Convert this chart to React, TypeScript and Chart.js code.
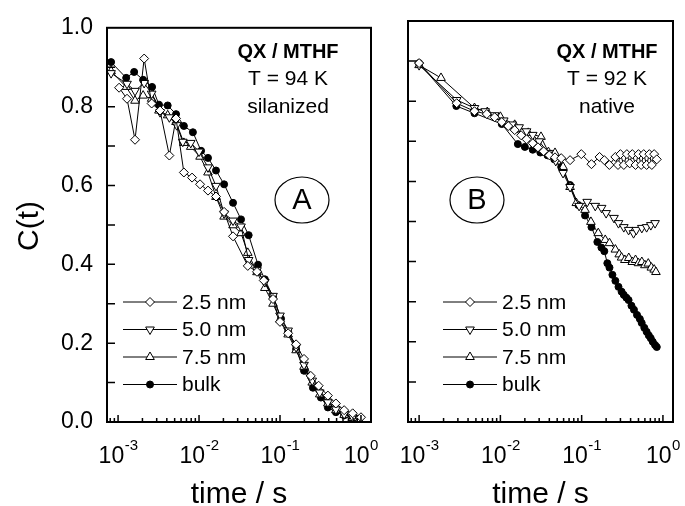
import React, { useEffect, useRef } from 'react';
import { Chart, registerables } from 'chart.js';
Chart.register(...registerables);

const FONT = '"Liberation Sans", Arial, Helvetica, sans-serif';

// ---------- Panel A (silanized, 94 K) ----------
const tA_25 = [1.03e-3, 1.29e-3, 1.62e-3, 2.1e-3, 2.6e-3, 3.3e-3, 4.3e-3, 5.2e-3, 6.5e-3, 8.2e-3, 0.0103, 0.0129, 0.0162, 0.0204, 0.0263, 0.04, 0.052, 0.063, 0.082, 0.1, 0.126, 0.158, 0.198, 0.24, 0.3, 0.39, 0.49, 0.62, 0.79, 1.0];
const cA_25 = [0.848, 0.82, 0.716, 0.922, 0.808, 0.79, 0.676, 0.77, 0.633, 0.62, 0.603, 0.587, 0.572, 0.533, 0.471, 0.396, 0.381, 0.359, 0.312, 0.254, 0.225, 0.197, 0.16, 0.117, 0.092, 0.067, 0.047, 0.03, 0.022, 0.012];

const tA_50 = [8.2e-4, 1.29e-3, 1.62e-3, 2.1e-3, 2.6e-3, 3.3e-3, 4.3e-3, 5.3e-3, 6.3e-3, 7.9e-3, 0.01, 0.0129, 0.0162, 0.0204, 0.0263, 0.033, 0.041, 0.052, 0.065, 0.082, 0.1, 0.126, 0.158, 0.198, 0.25, 0.31, 0.39, 0.49, 0.62, 0.79, 0.95];
const cA_50 = [0.885, 0.858, 0.84, 0.86, 0.833, 0.786, 0.773, 0.753, 0.711, 0.708, 0.686, 0.646, 0.599, 0.529, 0.511, 0.496, 0.411, 0.385, 0.355, 0.32, 0.27, 0.232, 0.19, 0.145, 0.105, 0.075, 0.05, 0.032, 0.02, 0.012, 0.008];

const tA_75 = [8.2e-4, 1.26e-3, 1.62e-3, 2.04e-3, 2.6e-3, 3.2e-3, 4.1e-3, 5.2e-3, 6.5e-3, 7.9e-3, 0.0103, 0.0129, 0.0162, 0.0204, 0.0263, 0.033, 0.04, 0.052, 0.065, 0.082, 0.1, 0.126, 0.158, 0.198, 0.25, 0.31, 0.39, 0.49, 0.62, 0.79, 0.95];
const cA_75 = [0.89, 0.85, 0.815, 0.828, 0.82, 0.79, 0.778, 0.761, 0.708, 0.698, 0.673, 0.633, 0.571, 0.521, 0.499, 0.479, 0.429, 0.38, 0.34, 0.3, 0.26, 0.222, 0.182, 0.14, 0.1, 0.07, 0.047, 0.03, 0.018, 0.01, 0.006];

const tA_bulk = [8.2e-4, 1.26e-3, 1.58e-3, 2.04e-3, 2.63e-3, 3.2e-3, 4.1e-3, 5.2e-3, 6.5e-3, 8.4e-3, 0.0106, 0.0129, 0.0162, 0.0204, 0.0263, 0.033, 0.041, 0.0535, 0.065, 0.082, 0.103, 0.126, 0.158, 0.198, 0.255, 0.32, 0.39, 0.49, 0.62, 0.79];
const cA_bulk = [0.913, 0.873, 0.888, 0.868, 0.85, 0.805, 0.803, 0.781, 0.751, 0.735, 0.688, 0.67, 0.638, 0.603, 0.556, 0.514, 0.474, 0.399, 0.362, 0.317, 0.262, 0.229, 0.185, 0.13, 0.087, 0.062, 0.037, 0.025, 0.017, 0.012];

// ---------- Panel B (native, 92 K) ----------
const tB_25 = [0.001, 0.0029, 0.0048, 0.0068, 0.0085, 0.0104, 0.0125, 0.015, 0.018, 0.021, 0.025, 0.029, 0.034, 0.04, 0.047, 0.056, 0.072, 0.099, 0.132, 0.166, 0.19, 0.219, 0.26, 0.28, 0.3, 0.33, 0.36, 0.39, 0.42, 0.46, 0.5, 0.54, 0.58, 0.63, 0.68, 0.73, 0.78, 0.84];
const cB_25 = [0.895, 0.795, 0.775, 0.768, 0.76, 0.748, 0.738, 0.728, 0.715, 0.705, 0.695, 0.685, 0.675, 0.665, 0.66, 0.658, 0.653, 0.668, 0.643, 0.661, 0.653, 0.641, 0.661, 0.641, 0.668, 0.641, 0.668, 0.645, 0.668, 0.641, 0.668, 0.641, 0.668, 0.641, 0.668, 0.641, 0.668, 0.655];

const tB_50 = [0.001, 0.0029, 0.0048, 0.0065, 0.0085, 0.011, 0.014, 0.017, 0.021, 0.025, 0.03, 0.039, 0.048, 0.059, 0.072, 0.093, 0.117, 0.147, 0.176, 0.2, 0.25, 0.284, 0.33, 0.378, 0.435, 0.47, 0.55, 0.63, 0.71, 0.8];
const cB_50 = [0.89, 0.803, 0.783, 0.775, 0.765, 0.752, 0.742, 0.735, 0.725, 0.716, 0.7, 0.671, 0.651, 0.621, 0.586, 0.539, 0.549, 0.539, 0.534, 0.521, 0.509, 0.496, 0.486, 0.479, 0.471, 0.479, 0.484, 0.486, 0.491, 0.496];

const tB_75 = [0.001, 0.00186, 0.0048, 0.0069, 0.01, 0.015, 0.022, 0.0316, 0.039, 0.047, 0.059, 0.072, 0.086, 0.11, 0.13, 0.16, 0.195, 0.22, 0.26, 0.29, 0.31, 0.34, 0.38, 0.42, 0.46, 0.5, 0.55, 0.6, 0.66, 0.72, 0.78, 0.82];
const cB_75 = [0.89, 0.858, 0.783, 0.773, 0.761, 0.741, 0.721, 0.711, 0.673, 0.671, 0.636, 0.586, 0.546, 0.529, 0.499, 0.471, 0.454, 0.446, 0.43, 0.418, 0.41, 0.404, 0.409, 0.399, 0.404, 0.396, 0.399, 0.391, 0.395, 0.385, 0.38, 0.374];

const tB_bulk = [0.001, 0.00287, 0.0048, 0.0104, 0.0164, 0.02, 0.025, 0.031, 0.038, 0.046, 0.056, 0.072, 0.091, 0.11, 0.132, 0.156, 0.175, 0.19, 0.207, 0.22, 0.239, 0.26, 0.284, 0.31, 0.33, 0.355, 0.378, 0.41, 0.44, 0.48, 0.52, 0.548, 0.59, 0.63, 0.67, 0.708, 0.75, 0.8, 0.84];
const cB_bulk = [0.895, 0.788, 0.77, 0.743, 0.693, 0.686, 0.679, 0.672, 0.665, 0.655, 0.636, 0.591, 0.541, 0.515, 0.486, 0.449, 0.435, 0.426, 0.396, 0.385, 0.367, 0.352, 0.337, 0.325, 0.317, 0.31, 0.304, 0.29, 0.28, 0.267, 0.257, 0.247, 0.235, 0.225, 0.216, 0.209, 0.2, 0.192, 0.187];

// ---------- labels / ticks ----------
const seriesLabels = ['2.5 nm', '5.0 nm', '7.5 nm', 'bulk'];
const xDecades = [-3, -2, -1, 0];
const xTickBase = '10';
const xTickSup = ['-3', '-2', '-1', '0'];
const yMajorTicks = [0, 0.2, 0.4, 0.6, 0.8, 1.0];
const yMinorTicks = [0.1, 0.3, 0.5, 0.7, 0.9];
const xTitle = 'time / s';
const yTitle = 'C(t)';
const annoA = [{ text: 'QX / MTHF', bold: true }, { text: 'T = 94 K', bold: false }, { text: 'silanized', bold: false }];
const annoB = [{ text: 'QX / MTHF', bold: true }, { text: 'T = 92 K', bold: false }, { text: 'native', bold: false }];
const X_MIN = 7.3e-4;
const X_MAX = 1.33;

const markerStyles = [
  { pointStyle: 'rectRot', radius: 4.5, fill: '#ffffff', rotation: 0 },
  { pointStyle: 'triangle', radius: 5, fill: '#ffffff', rotation: 180 },
  { pointStyle: 'triangle', radius: 5, fill: '#ffffff', rotation: 0 },
  { pointStyle: 'circle', radius: 3.5, fill: '#000000', rotation: 0 },
];

function drawMarker(ctx: CanvasRenderingContext2D, st: any, x: number, y: number) {
  const r = st.radius;
  ctx.beginPath();
  if (st.pointStyle === 'circle') {
    ctx.arc(x, y, r, 0, Math.PI * 2);
  } else if (st.pointStyle === 'rectRot') {
    ctx.moveTo(x, y - r); ctx.lineTo(x + r, y); ctx.lineTo(x, y + r); ctx.lineTo(x - r, y); ctx.closePath();
  } else {
    let rad = (st.rotation * Math.PI) / 180;
    for (let k = 0; k < 3; k++) {
      const px = x + Math.sin(rad) * r;
      const py = y - Math.cos(rad) * r;
      if (k === 0) ctx.moveTo(px, py); else ctx.lineTo(px, py);
      rad += (2 * Math.PI) / 3;
    }
    ctx.closePath();
  }
  ctx.fillStyle = st.fill;
  ctx.fill();
  ctx.lineWidth = 1;
  ctx.strokeStyle = '#000';
  ctx.stroke();
}

const decorPlugin = {
  id: 'decor',
  afterDatasetsDraw(chart: any, _args: any, opts: any) {
    const ctx: CanvasRenderingContext2D = chart.ctx;
    const { left, right, top, bottom } = chart.chartArea;
    const xs = chart.scales.x;
    const ys = chart.scales.y;
    ctx.save();
    ctx.strokeStyle = '#000';
    ctx.fillStyle = '#000';

    // inward ticks
    ctx.lineWidth = 1.5;
    ctx.beginPath();
    [...yMajorTicks, ...yMinorTicks].forEach((v) => {
      if (v <= 0 || v >= 1) return;
      const y = ys.getPixelForValue(v);
      ctx.moveTo(left, y);
      ctx.lineTo(left + 8, y);
    });
    for (let d = -4; d <= 0; d++) {
      for (let m = 1; m <= 9; m++) {
        const v = m * Math.pow(10, d);
        if (v < X_MIN || v > X_MAX) continue;
        const x = xs.getPixelForValue(v);
        const len = m === 1 ? 7 : 4;
        ctx.moveTo(x, bottom);
        ctx.lineTo(x, bottom - len);
      }
    }
    ctx.stroke();

    // frame
    ctx.lineWidth = 2;
    ctx.strokeRect(left, top, right - left, bottom - top);

    // x tick labels with superscripts
    ctx.textBaseline = 'alphabetic';
    ctx.textAlign = 'left';
    xDecades.forEach((d, i) => {
      const x = xs.getPixelForValue(Math.pow(10, d));
      ctx.font = `23px ${FONT}`;
      const wb = ctx.measureText(xTickBase).width;
      ctx.font = `15px ${FONT}`;
      const ws = ctx.measureText(xTickSup[i]).width;
      const start = x - (wb + ws) / 2;
      ctx.font = `23px ${FONT}`;
      ctx.fillText(xTickBase, start, 463);
      ctx.font = `15px ${FONT}`;
      ctx.fillText(xTickSup[i], start + wb + 0.5, 450);
    });

    // x title
    ctx.font = `30px ${FONT}`;
    ctx.textAlign = 'center';
    ctx.fillText(xTitle, (left + right) / 2, 503);

    // y title
    if (opts.showYTitle) {
      ctx.save();
      ctx.translate(30, 226);
      ctx.rotate(-Math.PI / 2);
      ctx.font = `30px ${FONT}`;
      ctx.textAlign = 'center';
      ctx.textBaseline = 'middle';
      ctx.fillText(yTitle, 0, 0);
      ctx.restore();
    }

    // annotation text block
    const cx = left + opts.textDx;
    const baselines = [58, 85, 113];
    ctx.textAlign = 'center';
    ctx.textBaseline = 'alphabetic';
    opts.lines.forEach((ln: any, i: number) => {
      ctx.font = ln.bold ? `bold 20px ${FONT}` : `21px ${FONT}`;
      ctx.fillText(ln.text, cx, baselines[i]);
    });

    // panel letter in ellipse
    const ex = left + opts.circleDx;
    ctx.lineWidth = 1.2;
    ctx.beginPath();
    ctx.ellipse(ex, 200, 27, 23, 0, 0, Math.PI * 2);
    ctx.stroke();
    ctx.font = `29px ${FONT}`;
    ctx.textBaseline = 'middle';
    ctx.fillText(opts.letter, ex, 201);

    // legend
    const lx = left + opts.legendDx;
    const rows = [302, 329.5, 357, 384.5];
    seriesLabels.forEach((lab, i) => {
      const y = rows[i];
      ctx.lineWidth = 1;
      ctx.strokeStyle = '#000';
      ctx.beginPath();
      ctx.moveTo(lx, y);
      ctx.lineTo(lx + 54, y);
      ctx.stroke();
      drawMarker(ctx, markerStyles[i], lx + 27, y);
      ctx.fillStyle = '#000';
      ctx.font = `21px ${FONT}`;
      ctx.textAlign = 'left';
      ctx.textBaseline = 'middle';
      ctx.fillText(lab, lx + 59, y + 1);
    });
    ctx.restore();
  },
};

function makeDatasets(ts: number[][], cs: number[][]) {
  return ts.map((t, i) => ({
    label: seriesLabels[i],
    data: t.map((x, k) => ({ x, y: cs[i][k] })),
    showLine: true,
    borderColor: '#000',
    borderWidth: 1,
    pointStyle: markerStyles[i].pointStyle,
    pointRadius: markerStyles[i].radius,
    pointRotation: markerStyles[i].rotation,
    pointBackgroundColor: markerStyles[i].fill,
    pointBorderColor: '#000',
    pointBorderWidth: 1,
  }));
}

function makeConfig(datasets: any[], yLabels: boolean, yWidth: number, padRight: number, decor: any) {
  return {
    type: 'scatter',
    data: { datasets },
    plugins: [decorPlugin],
    options: {
      responsive: false,
      animation: false,
      devicePixelRatio: 1,
      layout: { padding: { left: 0, right: padRight, top: 21, bottom: 0 } },
      plugins: { legend: { display: false }, tooltip: { enabled: false }, decor },
      scales: {
        x: {
          type: 'logarithmic',
          min: X_MIN,
          max: X_MAX,
          grid: { display: false, drawTicks: false },
          border: { display: false },
          ticks: { display: false },
          afterFit: (s: any) => { s.height = 84; },
        },
        y: {
          type: 'linear',
          min: 0,
          max: 1,
          grid: { display: false, drawTicks: false },
          border: { display: false },
          ticks: {
            display: yLabels,
            stepSize: 0.2,
            padding: 14,
            color: '#000',
            font: { family: FONT, size: 23 },
            callback: (v: number) => Number(v).toFixed(1),
          },
          afterFit: (s: any) => { s.width = yWidth; },
        },
      },
    },
  };
}

function Panel({ cfg, w, left }: { cfg: any; w: number; left: number }) {
  const ref = useRef<HTMLCanvasElement>(null);
  useEffect(() => {
    if (!ref.current) return;
    const chart = new Chart(ref.current, cfg);
    return () => chart.destroy();
  }, []);
  return (
    <canvas
      ref={ref}
      width={w}
      height={506}
      style={{ position: 'absolute', left, top: 0, width: w, height: 506 }}
    />
  );
}

export default function App() {
  const cfgA = makeConfig(
    makeDatasets([tA_25, tA_50, tA_75, tA_bulk], [cA_25, cA_50, cA_75, cA_bulk]),
    true, 107, 19,
    { showYTitle: true, lines: annoA, textDx: 181, circleDx: 195, letter: 'A', legendDx: 16 }
  );
  const cfgB = makeConfig(
    makeDatasets([tB_25, tB_50, tB_75, tB_bulk], [cB_25, cB_50, cB_75, cB_bulk]),
    false, 18, 12,
    { showYTitle: false, lines: annoB, textDx: 199, circleDx: 69, letter: 'B', legendDx: 35 }
  );
  return (
    <div style={{ position: 'fixed', left: 0, top: 0, width: 685, height: 506, background: '#fff' }}>
      <Panel cfg={cfgA} w={390} left={0} />
      <Panel cfg={cfgB} w={295} left={390} />
    </div>
  );
}
